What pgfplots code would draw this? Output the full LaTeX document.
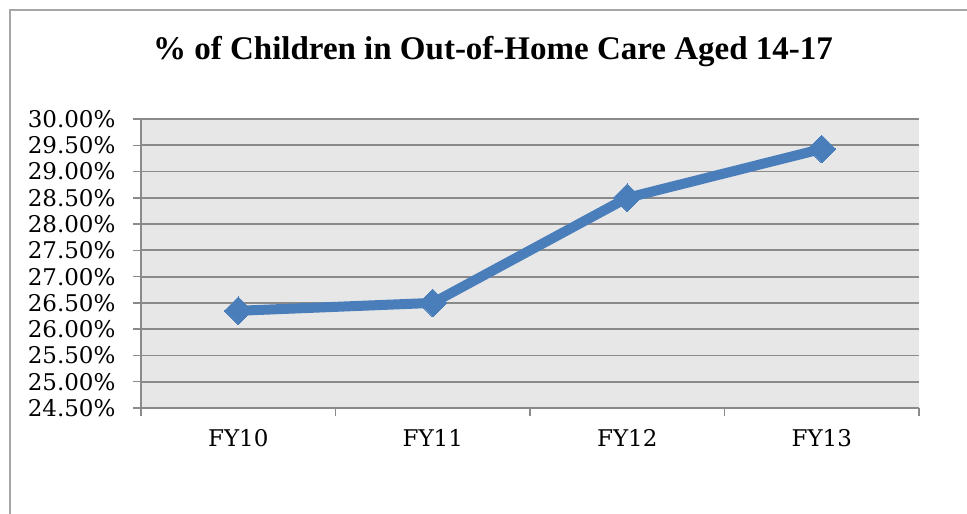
\documentclass[border=0pt]{standalone}
\usepackage{fontspec}
\setmainfont{DejaVu Serif}
\newfontfamily\titlefont{Liberation Serif}
\usepackage{pgfplots}
\pgfplotsset{compat=1.18}
\definecolor{linecol}{HTML}{4A7EBB}
\definecolor{gridcol}{HTML}{8A8A8A}
\definecolor{framecol}{HTML}{A6A6A6}
\definecolor{plotbg}{HTML}{E7E7E7}

\begin{document}
\begin{tikzpicture}
\useasboundingbox (0pt,0pt) rectangle (967pt,514pt);
% outer chart frame (right and bottom edges fall outside the picture)
\draw[framecol, line width=2pt] (10pt,-10pt) -- (10pt,504pt) -- (980pt,504pt);
\node[font=\titlefont\bfseries\fontsize{33}{36}\selectfont] at (493pt,462pt)
  {\% of Children in Out-of-Home Care Aged 14-17};
\begin{axis}[
  at={(141pt,106pt)}, anchor=south west,
  scale only axis, width=778pt, height=289pt,
  xmin=0.5, xmax=4.5, ymin=24.5, ymax=30,
  xtick={0.5,1.5,2.5,3.5,4.5},
  xticklabels={FY10,FY11,FY12,FY13},
  x tick label as interval,
  ytick={24.5,25,...,30.01},
  yticklabel={\pgfmathprintnumber[fixed,fixed zerofill,precision=2]{\tick}\%},
  /pgf/number format/assume math mode=true,
  ticklabel style={font=\fontsize{23}{25}\selectfont, text=black},
  yticklabel style={xshift=-14pt},
  xticklabel style={yshift=-10pt},
  ymajorgrids,
  grid style={gridcol, line width=1.8pt},
  axis background/.style={fill=plotbg},
  axis x line*=bottom, axis y line*=left,
  axis line style={gridcol, line width=1.8pt},
  tick style={gridcol, line width=1.5pt},
  tick align=outside, major tick length=8pt,
  clip=false,
]
\addplot[color=linecol, line width=10pt, mark=square*,
  mark size=9.8pt, mark options={rotate=45, line width=0pt}]
  coordinates {
    (1, 26.35)
    (2, 26.50)
    (3, 28.50)
    (4, 29.43)
  };
\end{axis}
\end{tikzpicture}
\end{document}
